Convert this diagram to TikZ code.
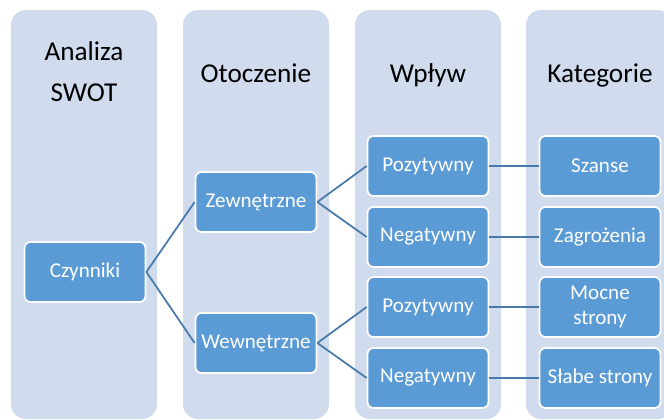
\documentclass[tikz,border=0pt]{standalone}
\usepackage{fontspec}
\setmainfont{Carlito}
\usetikzlibrary{positioning}
\definecolor{panelblue}{RGB}{208,219,237}
\definecolor{boxblue}{RGB}{91,155,213}
\definecolor{linkblue}{RGB}{72,122,172}

\begin{document}
\begin{tikzpicture}[x=0.02cm, y=-0.02cm,
  head/.style={anchor=base, align=center, font=\fontsize{15.5}{23}\selectfont},
  box/.style={draw=white, line width=1pt, fill=boxblue, rounded corners=.12cm,
    text=white, align=center, minimum width=2.42cm, minimum height=1.2cm,
    inner sep=1pt, font=\fontsize{12}{14}\selectfont},
  link/.style={draw=linkblue, line width=1pt}
  ]
  \useasboundingbox (0,0) rectangle (664,420);
  \clip (0,0) rectangle (664,420);
  \fill[white] (0,0) rectangle (664,420);
  \foreach \xa in {11,183,355,526}
    \fill[panelblue, rounded corners=.3cm] (\xa,10) rectangle ++(146,409);

  \node[head] (hswot) at (84,101) {Analiza\\SWOT};
  \node[head] (hotocz) at (256,82) {Otoczenie};
  \node[head] (hwplyw) at (428,82) {Wpływ};
  \node[head] (hkat) at (600,82) {Kategorie};

  \node[box] (czyn) at (85,272) {Czynniki};
  \node[box] (zewn) at (256,202) {Zewnętrzne};
  \node[box] (wewn) at (256,343) {Wewnętrzne};
  \node[box] (poz1) at (428,166) {Pozytywny};
  \node[box] (neg1) at (428,237) {Negatywny};
  \node[box] (poz2) at (428,307) {Pozytywny};
  \node[box] (neg2) at (428,378) {Negatywny};
  \node[box] (szanse) at (600,166) {Szanse};
  \node[box] (zagr) at (600,237) {Zagrożenia};
  \node[box] (mocne) at (600,307) {Mocne\\strony};
  \node[box] (slabe) at (600,378) {Słabe strony};

  \draw[link] (czyn.east) -- (zewn.west);
  \draw[link] (czyn.east) -- (wewn.west);
  \draw[link] (zewn.east) -- (poz1.west);
  \draw[link] (zewn.east) -- (neg1.west);
  \draw[link] (wewn.east) -- (poz2.west);
  \draw[link] (wewn.east) -- (neg2.west);
  \draw[link] (poz1) -- (szanse);
  \draw[link] (neg1) -- (zagr);
  \draw[link] (poz2) -- (mocne);
  \draw[link] (neg2) -- (slabe);
\end{tikzpicture}
\end{document}
